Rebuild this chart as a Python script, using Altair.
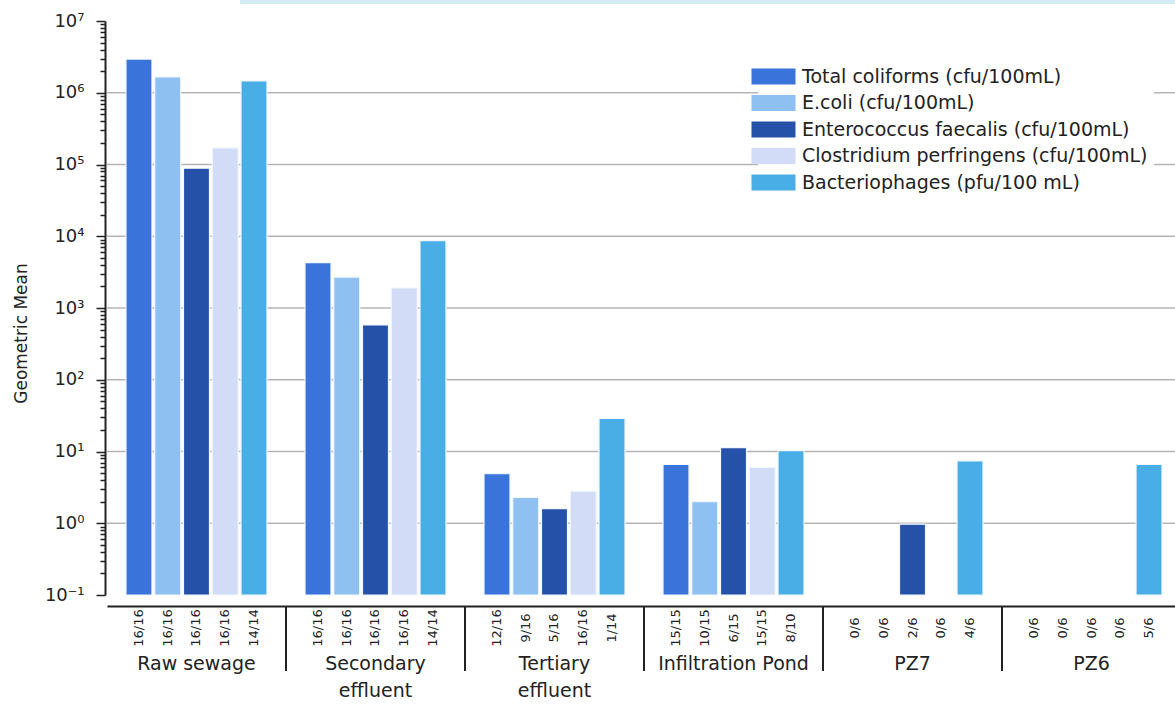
import altair as alt
import pandas as pd

# ---------------- data ----------------
groups = ["Raw sewage", "Secondary effluent", "Tertiary effluent",
          "Infiltration Pond", "PZ7", "PZ6"]
group_labels = ["Raw sewage", "Secondary\neffluent", "Tertiary\neffluent",
                "Infiltration Pond", "PZ7", "PZ6"]
series = ["Total coliforms (cfu/100mL)", "E.coli (cfu/100mL)",
          "Enterococcus faecalis (cfu/100mL)",
          "Clostridium perfringens (cfu/100mL)",
          "Bacteriophages (pfu/100 mL)"]
colors = ["#3a73da", "#8ec0f2", "#2552a8", "#d2dcf6", "#4aaee6"]

total_coliforms = [2.95e6, 4.3e3, 4.9, 6.6, None, None]
e_coli = [1.66e6, 2.7e3, 2.3, 2.0, None, None]
enterococcus = [8.9e4, 580, 1.6, 11.3, 0.97, None]
clostridium = [1.7e5, 1.9e3, 2.8, 6.0, None, None]
bacteriophages = [1.46e6, 8.7e3, 29, 10.3, 7.4, 6.6]

samples_tc = ["16/16", "16/16", "12/16", "15/15", "0/6", "0/6"]
samples_ec = ["16/16", "16/16", "9/16", "10/15", "0/6", "0/6"]
samples_ef = ["16/16", "16/16", "5/16", "6/15", "2/6", "0/6"]
samples_cp = ["16/16", "16/16", "16/16", "15/15", "0/6", "0/6"]
samples_bp = ["14/14", "14/14", "1/14", "8/10", "4/6", "5/6"]

grid_values = [1, 10, 100, 1e3, 1e4, 1e5, 1e6]
y_min, y_max = 0.1, 1e7

values_by_series = [total_coliforms, e_coli, enterococcus, clostridium, bacteriophages]
samples_by_series = [samples_tc, samples_ec, samples_ef, samples_cp, samples_bp]

rows = []
for s, vals, samps in zip(series, values_by_series, samples_by_series):
    for g, v, n in zip(groups, vals, samps):
        rows.append({"group": g, "series": s, "value": v, "samples": n, "base": y_min})
df = pd.DataFrame(rows)
df_groups = pd.DataFrame({"group": groups, "label": group_labels})
df_sep = pd.DataFrame({"group": groups[1:]})
df_grid = pd.DataFrame({"value": grid_values})

# axis tick positions (1..9 x 10^k)
tick_values = [k * 10.0 ** e for e in range(-1, 7) for k in range(1, 10)] + [1e7]

FONT = "DejaVu Sans"
TXT = "#222222"
W, H = 1070, 574

is_pow = "abs(log(datum.value)/LN10 - round(log(datum.value)/LN10)) < 1e-6"
label_expr = (is_pow + " ? '10' + ['\u207b\u00b9','\u2070','\u00b9','\u00b2','\u00b3',"
              "'\u2074','\u2075','\u2076','\u2077'][round(log(datum.value)/LN10)+1] : ''")

x_scale = alt.Scale(domain=groups, range=[2, 1076], paddingInner=0.2123, paddingOuter=0.106)
y_scale = alt.Scale(type="log", domain=[y_min, y_max], nice=False)
off_scale = alt.Scale(domain=series, paddingInner=0.0957, paddingOuter=0)

top_line = alt.Chart(df_grid).mark_rule(color="#d6ebf4", strokeWidth=4).encode(
    x=alt.value(135), x2=alt.value(W), y=alt.value(-19)
)

grid = alt.Chart(df_grid).mark_rule(color="#b5b5b5", strokeWidth=1.5).encode(
    y=alt.Y("value:Q", scale=y_scale),
    x=alt.value(2),
    x2=alt.value(W),
)

bars = alt.Chart(df).transform_filter("isValid(datum.value)").mark_bar(
    stroke="#f2f8ff", strokeWidth=1.2
).encode(
    x=alt.X("group:N", scale=x_scale, sort=groups,
            axis=alt.Axis(labels=False, ticks=False, title=None, domainColor=TXT,
                          domainWidth=2, offset=11, grid=False)),
    xOffset=alt.XOffset("series:N", scale=off_scale, sort=series),
    y=alt.Y("value:Q", scale=y_scale,
            axis=alt.Axis(values=tick_values, labelExpr=label_expr, grid=False,
                          labelOverlap=False, labelFlush=False, labelBound=False,
                          tickSize={"condition": {"test": is_pow, "value": 9}, "value": 5},
                          tickColor=TXT, tickWidth=1.5, domainColor=TXT, domainWidth=2,
                          labelFont=FONT, labelFontSize=18, labelColor=TXT, labelPadding=12,
                          title="Geometric Mean", titleFont=FONT, titleFontSize=17,
                          titleFontWeight="normal", titleColor=TXT, titleX=-84, titleY=312,
                          titleAngle=270, titleAlign="center", titleBaseline="middle")),
    y2=alt.Y2("base:Q"),
    color=alt.Color("series:N", scale=alt.Scale(domain=series, range=colors),
                    legend=alt.Legend(title=None, orient="none", legendX=653, legendY=40,
                                      symbolType="M-2.75,-1H2.75V1H-2.75Z", symbolSize=256,
                                      symbolStrokeWidth=0, symbolOpacity=1,
                                      labelFont=FONT, labelFontSize=19, labelColor=TXT,
                                      labelOffset=19, labelLimit=0, rowPadding=6.5,
                                      fillColor="white", padding=6)),
)

sample_text = alt.Chart(df).mark_text(
    angle=270, align="center", baseline="middle", font=FONT, fontSize=13, color=TXT
).encode(
    x=alt.X("group:N", scale=x_scale, sort=groups),
    xOffset=alt.XOffset("series:N", scale=off_scale, sort=series),
    y=alt.value(H + 33),
    text="samples:N",
)

group_text = alt.Chart(df_groups).mark_text(
    align="center", baseline="alphabetic", font=FONT, fontSize=19, color=TXT,
    lineBreak="\n", lineHeight=27
).encode(
    x=alt.X("group:N", scale=x_scale, sort=groups),
    y=alt.value(H + 75),
    text="label:N",
)

separators = alt.Chart(df_sep).mark_rule(color=TXT, strokeWidth=2, xOffset=-19).encode(
    x=alt.X("group:N", scale=x_scale, sort=groups, bandPosition=0),
    y=alt.value(H + 11),
    y2=alt.value(H + 76),
)

chart = alt.layer(top_line, grid, bars, sample_text, group_text, separators).properties(
    width=W, height=H,
    padding={"left": 105, "top": 21, "right": 0, "bottom": 113},
    autosize=alt.AutoSizeParams(type="none"),
    background="white",
).configure_view(stroke=None)

chart.save("out.html", embed_options={"renderer": "svg", "actions": False})
